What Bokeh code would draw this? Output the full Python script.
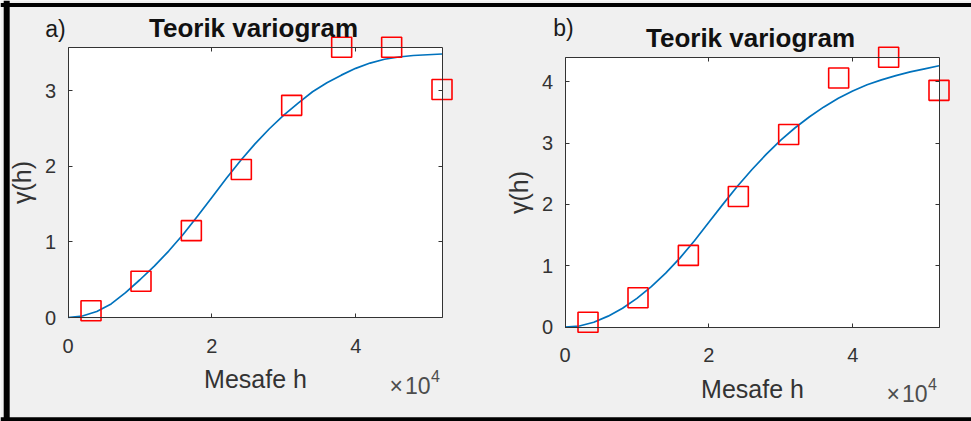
from bokeh.plotting import figure
from bokeh.models import (Range1d, FixedTicker, LinearAxis, Label, Span,
                          BoxAnnotation)
from bokeh.embed import file_html
from bokeh.resources import INLINE

# ---------------- data ----------------
lags = [3200, 10150, 17150, 24100, 31100, 38050, 45000, 52000]
gamma_a = [0.09, 0.48, 1.15, 1.96, 2.81, 3.58, 3.58, 3.02]
gamma_b = [0.08, 0.48, 1.17, 2.13, 3.14, 4.06, 4.40, 3.86]

model_h = [0, 2000, 4000, 6000, 8000, 10000, 12000, 14000, 16000, 18000,
           20000, 22000, 24000, 26000, 28000, 30000, 32000, 34000, 36000,
           38000, 40000, 42000, 44000, 46000, 48000, 50000, 52000]
model_a = [0, 0.02, 0.08, 0.18, 0.33, 0.50, 0.68, 0.88, 1.10, 1.34, 1.59,
           1.84, 2.08, 2.30, 2.50, 2.68, 2.84, 2.99, 3.11, 3.21, 3.30, 3.37,
           3.42, 3.45, 3.47, 3.48, 3.49]
model_b = [0, 0.02, 0.08, 0.18, 0.31, 0.47, 0.66, 0.88, 1.13, 1.41, 1.71,
           2.01, 2.30, 2.57, 2.82, 3.05, 3.25, 3.43, 3.59, 3.73, 3.85, 3.95,
           4.03, 4.10, 4.16, 4.21, 4.26]

x_ticks = [0, 20000, 40000]
x_tick_labels = ["0", "2", "4"]
y_ticks_a = [0, 1, 2, 3]
y_ticks_b = [0, 1, 2, 3, 4]

title_text = "Teorik variogram"
x_label = "Mesafe h"
y_label = "\u03b3(h)"
exp_base = "\u00d7\u200a10"
exp_power = "4"

# ---------------- styling / layout ----------------
FONT = "Liberation Sans"
INK = "#333333"
BG = "#f0f0f0"
LINE_BLUE = "#0072BD"
RED = "#ff0000"
W, H = 971, 421

# pixel boxes of the two axes areas on the canvas
box_a = dict(l=67.5, r=441.5, t=46.7, b=317.0)
box_b = dict(l=564.5, r=938.5, t=56.7, b=326.7)


class Mapper:
    def __init__(self, box, x_end, y_end):
        self.box = box
        self.kx = x_end / (box["r"] - box["l"])
        self.ky = y_end / (box["b"] - box["t"])
        self.xr = Range1d(-box["l"] * self.kx, (W - box["l"]) * self.kx)
        self.yr = Range1d(-(H - box["b"]) * self.ky, box["b"] * self.ky)

    def X(self, px):
        return (px - self.box["l"]) * self.kx

    def Y(self, py):
        return (self.box["b"] - py) * self.ky


x_end = max(lags)
ma = Mapper(box_a, x_end, max(gamma_a))
mb = Mapper(box_b, x_end, max(gamma_b))

p = figure(width=W, height=H, x_range=ma.xr, y_range=ma.yr,
           x_axis_location=None, y_axis_location=None, title=None,
           output_backend="svg", toolbar_location=None,
           min_border_left=0, min_border_right=0,
           min_border_top=0, min_border_bottom=0)
p.extra_x_ranges = {"xb": mb.xr}
p.extra_y_ranges = {"yb": mb.yr}
p.background_fill_color = BG
p.border_fill_color = BG
p.outline_line_color = None
p.xgrid.visible = False
p.ygrid.visible = False


def style_axis(ax, labels=True):
    ax.axis_line_color = INK
    ax.axis_line_width = 1
    ax.major_tick_line_color = INK
    ax.major_tick_in = 4
    ax.major_tick_out = 0
    ax.minor_tick_line_color = None
    ax.major_label_text_font = FONT
    ax.major_label_text_font_size = "20px"
    ax.major_label_text_color = INK if labels else None
    ax.axis_label_text_font = FONT
    ax.axis_label_text_font_size = "25px"
    ax.axis_label_text_font_style = "normal"
    ax.axis_label_text_color = INK


def panel(m, xrn, yrn, pts, curve, yticks, tag, title_xy, tag_xy, exp_xy):
    y_end = max(pts)
    p.add_layout(BoxAnnotation(left=0, right=x_end, bottom=0, top=y_end,
                               x_range_name=xrn, y_range_name=yrn,
                               fill_color="white", fill_alpha=1,
                               line_color=None, level="underlay"))

    bottom = LinearAxis(x_range_name=xrn, y_range_name=yrn, fixed_location=0,
                        bounds=(0, x_end), ticker=FixedTicker(ticks=x_ticks),
                        axis_label=x_label)
    bottom.major_label_overrides = {t: l for t, l in zip(x_ticks, x_tick_labels)}
    style_axis(bottom)
    bottom.major_label_standoff = 21
    bottom.axis_label_standoff = 9
    p.add_layout(bottom, "below")

    left = LinearAxis(x_range_name=xrn, y_range_name=yrn, fixed_location=0,
                      bounds=(0, y_end), ticker=FixedTicker(ticks=yticks),
                      axis_label=y_label)
    left.major_label_overrides = {t: str(t) for t in yticks}
    style_axis(left)
    left.major_label_standoff = 12
    left.axis_label_standoff = 6
    p.add_layout(left, "left")

    top = LinearAxis(x_range_name=xrn, y_range_name=yrn, fixed_location=y_end,
                     bounds=(0, x_end), ticker=FixedTicker(ticks=x_ticks))
    style_axis(top, labels=False)
    p.add_layout(top, "above")

    right = LinearAxis(x_range_name=xrn, y_range_name=yrn, fixed_location=x_end,
                       bounds=(0, y_end), ticker=FixedTicker(ticks=yticks))
    style_axis(right, labels=False)
    p.add_layout(right, "right")

    p.line(model_h, curve, x_range_name=xrn, y_range_name=yrn,
           line_color=LINE_BLUE, line_width=1.7)
    p.scatter(lags, pts, x_range_name=xrn, y_range_name=yrn,
              marker="square", size=20, fill_color=None,
              line_color=RED, line_width=1.6)

    p.add_layout(Label(x=m.X(title_xy[0]), y=m.Y(title_xy[1]), text=title_text,
                       x_range_name=xrn, y_range_name=yrn,
                       text_align="center", text_baseline="middle",
                       text_font=FONT, text_font_size="26px",
                       text_font_style="bold", text_color="#111111"))
    p.add_layout(Label(x=m.X(tag_xy[0]), y=m.Y(tag_xy[1]), text=tag,
                       x_range_name=xrn, y_range_name=yrn,
                       text_align="center", text_baseline="middle",
                       text_font=FONT, text_font_size="23px",
                       text_color="#1a1a1a"))
    p.add_layout(Label(x=m.X(exp_xy[0]), y=m.Y(exp_xy[1]), text=exp_base,
                       x_range_name=xrn, y_range_name=yrn,
                       text_align="right", text_baseline="middle",
                       text_font=FONT, text_font_size="23px",
                       text_color="#4d4d4d"))
    p.add_layout(Label(x=m.X(exp_xy[0] + 0.5), y=m.Y(exp_xy[1] - 10), text=exp_power,
                       x_range_name=xrn, y_range_name=yrn,
                       text_align="left", text_baseline="middle",
                       text_font=FONT, text_font_size="16px",
                       text_color="#4d4d4d"))


panel(ma, "default", "default", gamma_a, model_a, y_ticks_a, "a)",
      (253, 27), (55, 28), (430, 385))
panel(mb, "xb", "yb", gamma_b, model_b, y_ticks_b, "b)",
      (750, 37), (563, 27), (927, 393))

# screenshot frame (black border on left, top and bottom)
p.add_layout(Span(location=ma.X(6.2), dimension="height",
                  line_color="black", line_width=6))
p.add_layout(Span(location=ma.Y(4.5), dimension="width",
                  line_color="black", line_width=4))
p.add_layout(Span(location=ma.Y(418.7), dimension="width",
                  line_color="black", line_width=4))

open("out.html", "w").write(file_html(p, INLINE))
